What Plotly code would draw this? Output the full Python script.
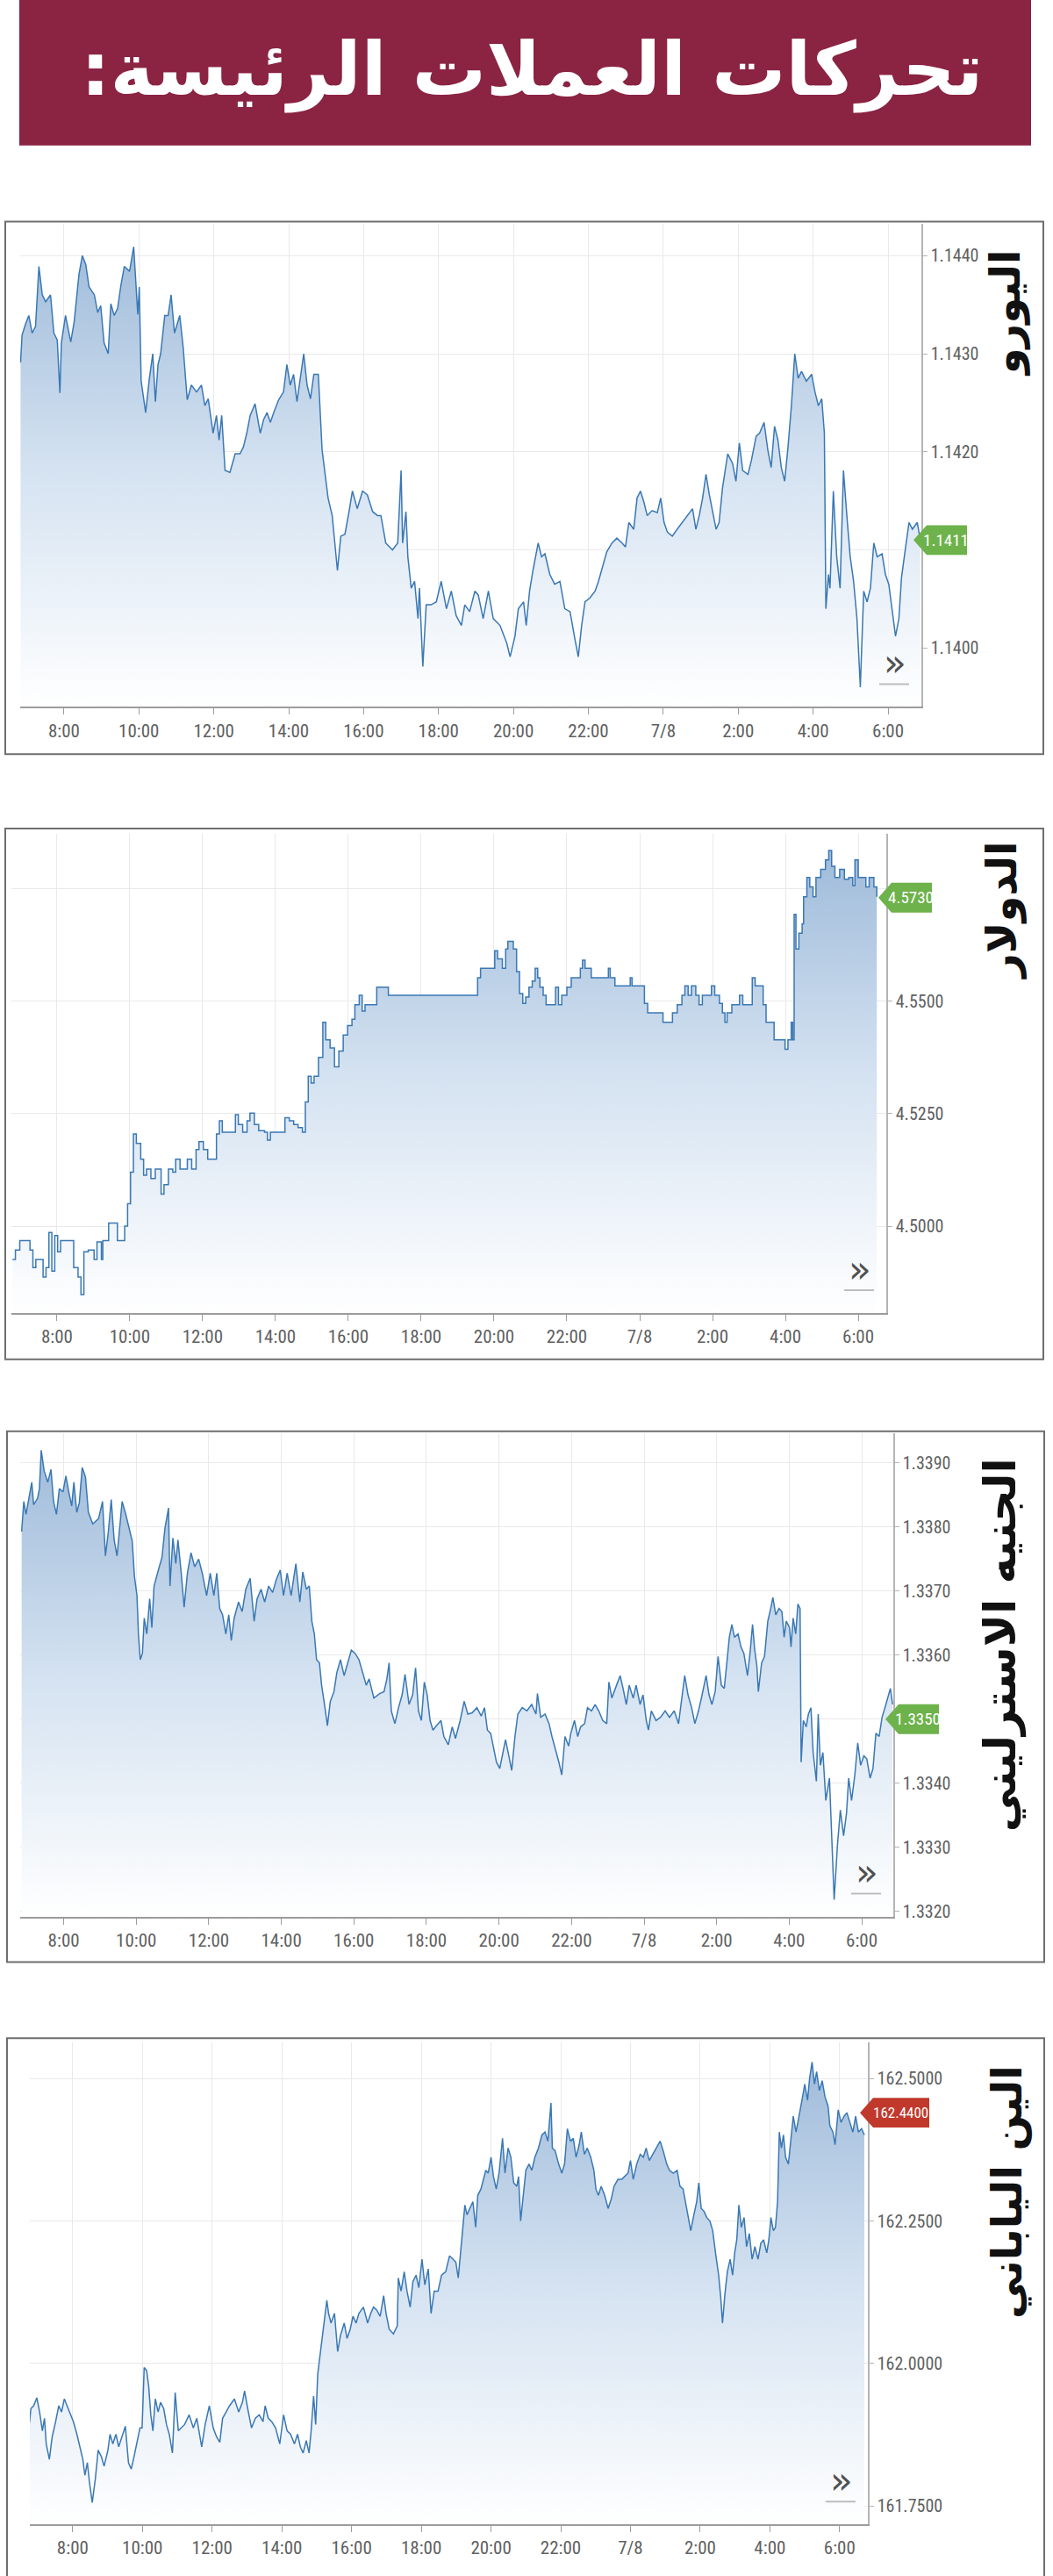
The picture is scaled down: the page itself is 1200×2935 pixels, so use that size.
import plotly.graph_objects as go

# ---------------- DATA ----------------
X_TICKS = [8, 10, 12, 14, 16, 18, 20, 22, 24, 26, 28, 30]
X_LABELS = ["8:00", "10:00", "12:00", "14:00", "16:00", "18:00", "20:00", "22:00", "7/8", "2:00", "4:00", "6:00"]

TITLE = "تحركات العملات الرئيسة:"
NAMES = ["اليورو", "الدولار", "الجنيه الاسترليني", "الين الياباني"]

EUR_T = [6.84, 6.88, 6.97, 7.06, 7.15, 7.24, 7.33, 7.42, 7.51, 7.64,
         7.73, 7.82, 7.89, 7.93, 8.04, 8.18, 8.27, 8.40, 8.49, 8.58,
         8.67, 8.81, 8.90, 8.98, 9.07, 9.18, 9.25, 9.34, 9.43, 9.52,
         9.61, 9.75, 9.86, 9.92, 9.97, 10.01, 10.06, 10.18, 10.28, 10.37,
         10.44, 10.51, 10.58, 10.69, 10.78, 10.86, 10.95, 11.09, 11.18, 11.29,
         11.40, 11.54, 11.67, 11.76, 11.85, 11.98, 12.07, 12.14, 12.21, 12.30,
         12.43, 12.57, 12.70, 12.79, 12.88, 12.97, 13.10, 13.24, 13.33, 13.42,
         13.51, 13.60, 13.73, 13.86, 13.95, 14.04, 14.13, 14.22, 14.31, 14.40,
         14.49, 14.58, 14.67, 14.79, 14.89, 14.98, 15.05, 15.16, 15.30, 15.39,
         15.50, 15.61, 15.70, 15.83, 15.97, 16.10, 16.24, 16.37, 16.46, 16.59,
         16.77, 16.91, 17.00, 17.04, 17.13, 17.18, 17.27, 17.36, 17.45, 17.49,
         17.58, 17.67, 17.80, 17.94, 18.07, 18.21, 18.34, 18.47, 18.61, 18.70,
         18.83, 18.97, 19.06, 19.19, 19.33, 19.46, 19.64, 19.82, 19.91, 20.04,
         20.13, 20.27, 20.34, 20.43, 20.52, 20.66, 20.75, 20.84, 20.97, 21.10,
         21.24, 21.37, 21.51, 21.64, 21.73, 21.82, 21.91, 22.04, 22.18, 22.27,
         22.40, 22.49, 22.63, 22.76, 22.90, 22.99, 23.08, 23.21, 23.30, 23.39,
         23.48, 23.57, 23.70, 23.84, 23.93, 24.02, 24.11, 24.24, 24.37, 24.51,
         24.64, 24.78, 24.87, 24.96, 25.05, 25.14, 25.23, 25.32, 25.41, 25.49,
         25.58, 25.72, 25.85, 25.94, 26.03, 26.12, 26.26, 26.35, 26.48, 26.57,
         26.69, 26.79, 26.88, 26.97, 27.06, 27.15, 27.24, 27.33, 27.42, 27.51,
         27.60, 27.69, 27.82, 27.96, 28.05, 28.14, 28.23, 28.30, 28.34, 28.41,
         28.45, 28.54, 28.63, 28.72, 28.81, 28.90, 28.99, 29.08, 29.17, 29.26,
         29.35, 29.44, 29.53, 29.62, 29.71, 29.84, 29.93, 30.02, 30.11, 30.20,
         30.29, 30.36, 30.47, 30.56, 30.65, 30.78, 30.86]
EUR_V = [1.14291, 1.14319, 1.14330, 1.14339, 1.14321, 1.14328, 1.14389, 1.14360, 1.14353, 1.14360,
         1.14321, 1.14314, 1.14260, 1.14311, 1.14339, 1.14312, 1.14332, 1.14381, 1.14400, 1.14391,
         1.14368, 1.14360, 1.14342, 1.14349, 1.14311, 1.14300, 1.14351, 1.14339, 1.14346, 1.14370,
         1.14389, 1.14384, 1.14409, 1.14370, 1.14340, 1.14368, 1.14272, 1.14240, 1.14275, 1.14300,
         1.14251, 1.14289, 1.14300, 1.14339, 1.14339, 1.14360, 1.14321, 1.14339, 1.14307, 1.14253,
         1.14268, 1.14261, 1.14268, 1.14247, 1.14254, 1.14219, 1.14237, 1.14212, 1.14237, 1.14181,
         1.14179, 1.14198, 1.14198, 1.14205, 1.14219, 1.14237, 1.14249, 1.14219, 1.14233, 1.14240,
         1.14230, 1.14240, 1.14253, 1.14261, 1.14289, 1.14268, 1.14279, 1.14251, 1.14275, 1.14300,
         1.14268, 1.14254, 1.14279, 1.14279, 1.14202, 1.14177, 1.14153, 1.14135, 1.14079, 1.14114,
         1.14116, 1.14139, 1.14160, 1.14142, 1.14160, 1.14156, 1.14139, 1.14135, 1.14135, 1.14107,
         1.14100, 1.14107, 1.14181, 1.14107, 1.14139, 1.14093, 1.14061, 1.14068, 1.14030, 1.14061,
         1.13981, 1.14044, 1.14044, 1.14047, 1.14068, 1.14040, 1.14058, 1.14033, 1.14023, 1.14044,
         1.14037, 1.14058, 1.14054, 1.14030, 1.14058, 1.14030, 1.14023, 1.14005, 1.13991, 1.14012,
         1.14040, 1.14047, 1.14023, 1.14058, 1.14079, 1.14107, 1.14093, 1.14096, 1.14075, 1.14065,
         1.14068, 1.14040, 1.14037, 1.14009, 1.13991, 1.14023, 1.14047, 1.14051, 1.14058, 1.14068,
         1.14086, 1.14098, 1.14107, 1.14112, 1.14107, 1.14103, 1.14128, 1.14121, 1.14153, 1.14160,
         1.14149, 1.14135, 1.14140, 1.14138, 1.14153, 1.14128, 1.14118, 1.14114, 1.14121, 1.14128,
         1.14135, 1.14142, 1.14121, 1.14135, 1.14153, 1.14177, 1.14156, 1.14139, 1.14121, 1.14128,
         1.14163, 1.14198, 1.14188, 1.14170, 1.14209, 1.14181, 1.14177, 1.14191, 1.14216, 1.14219,
         1.14230, 1.14202, 1.14184, 1.14226, 1.14212, 1.14184, 1.14170, 1.14205, 1.14247, 1.14300,
         1.14275, 1.14282, 1.14272, 1.14279, 1.14261, 1.14247, 1.14254, 1.14219, 1.14040, 1.14075,
         1.14061, 1.14160, 1.14093, 1.14061, 1.14181, 1.14135, 1.14093, 1.14068, 1.14030, 1.13960,
         1.14058, 1.14047, 1.14061, 1.14107, 1.14093, 1.14096, 1.14075, 1.14065, 1.14040, 1.14012,
         1.14030, 1.14072, 1.14103, 1.14128, 1.14121, 1.14128, 1.14110]

USD_T = [6.78, 6.86, 6.98, 7.18, 7.26, 7.34, 7.42, 7.54, 7.62, 7.70,
         7.78, 7.86, 7.94, 8.02, 8.10, 8.38, 8.46, 8.58, 8.66, 8.74,
         8.86, 9.02, 9.10, 9.22, 9.26, 9.42, 9.58, 9.66, 9.78, 9.86,
         9.94, 10.02, 10.10, 10.18, 10.30, 10.38, 10.46, 10.58, 10.70, 10.86,
         10.94, 11.06, 11.18, 11.26, 11.38, 11.50, 11.58, 11.70, 11.82, 11.90,
         12.02, 12.14, 12.26, 12.38, 12.46, 12.54, 12.78, 12.90, 12.98, 13.10,
         13.22, 13.30, 13.42, 13.54, 13.70, 13.78, 13.86, 14.14, 14.26, 14.38,
         14.50, 14.62, 14.74, 14.82, 14.90, 14.98, 15.06, 15.18, 15.30, 15.38,
         15.50, 15.62, 15.74, 15.86, 15.98, 16.10, 16.18, 16.30, 16.38, 16.46,
         16.70, 16.78, 17.02, 17.10, 19.50, 19.55, 19.63, 19.97, 20.02, 20.10,
         20.23, 20.32, 20.38, 20.53, 20.62, 20.70, 20.79, 20.87, 20.96, 21.05,
         21.13, 21.20, 21.26, 21.35, 21.43, 21.56, 21.69, 21.77, 21.86, 22.00,
         22.12, 22.25, 22.37, 22.43, 22.50, 22.67, 23.10, 23.14, 23.19, 23.32,
         23.70, 23.74, 23.79, 24.04, 24.13, 24.22, 24.47, 24.64, 24.82, 24.90,
         25.03, 25.16, 25.24, 25.33, 25.42, 25.54, 25.63, 25.72, 25.84, 25.97,
         26.06, 26.19, 26.27, 26.34, 26.40, 26.53, 26.66, 26.74, 26.83, 27.04,
         27.09, 27.17, 27.30, 27.39, 27.47, 27.60, 27.69, 27.90, 27.99, 28.07,
         28.16, 28.20, 28.24, 28.29, 28.37, 28.46, 28.50, 28.59, 28.67, 28.76,
         28.84, 28.97, 29.10, 29.19, 29.27, 29.36, 29.49, 29.62, 29.74, 29.85,
         29.91, 30.00, 30.13, 30.21, 30.30, 30.43, 30.51]
USD_V = [4.4926, 4.4947, 4.4968, 4.4968, 4.4947, 4.4908, 4.4926, 4.4926, 4.4887, 4.4908,
         4.4986, 4.4900, 4.4979, 4.4943, 4.4968, 4.4968, 4.4908, 4.4887, 4.4848, 4.4943,
         4.4947, 4.4926, 4.4965, 4.4926, 4.4968, 4.5007, 4.5007, 4.4968, 4.4968, 4.5000,
         4.5050, 4.5120, 4.5205, 4.5184, 4.5149, 4.5113, 4.5127, 4.5106, 4.5127, 4.5071,
         4.5092, 4.5127, 4.5120, 4.5149, 4.5127, 4.5127, 4.5149, 4.5127, 4.5170, 4.5188,
         4.5170, 4.5149, 4.5149, 4.5205, 4.5234, 4.5209, 4.5209, 4.5248, 4.5226, 4.5209,
         4.5234, 4.5251, 4.5226, 4.5212, 4.5209, 4.5191, 4.5209, 4.5209, 4.5241, 4.5234,
         4.5226, 4.5219, 4.5209, 4.5276, 4.5333, 4.5318, 4.5333, 4.5375, 4.5453, 4.5414,
         4.5396, 4.5354, 4.5389, 4.5425, 4.5446, 4.5460, 4.5492, 4.5513, 4.5478, 4.5492,
         4.5492, 4.5531, 4.5531, 4.5513, 4.5513, 4.5552, 4.5573, 4.5573, 4.5612, 4.5594,
         4.5573, 4.5616, 4.5633, 4.5616, 4.5566, 4.5517, 4.5495, 4.5509, 4.5531, 4.5545,
         4.5573, 4.5552, 4.5531, 4.5513, 4.5492, 4.5492, 4.5531, 4.5492, 4.5513, 4.5531,
         4.5552, 4.5552, 4.5573, 4.5591, 4.5573, 4.5552, 4.5552, 4.5573, 4.5552, 4.5534,
         4.5534, 4.5552, 4.5534, 4.5534, 4.5495, 4.5474, 4.5474, 4.5453, 4.5453, 4.5474,
         4.5492, 4.5513, 4.5534, 4.5513, 4.5534, 4.5513, 4.5492, 4.5513, 4.5513, 4.5534,
         4.5513, 4.5495, 4.5474, 4.5453, 4.5474, 4.5492, 4.5492, 4.5513, 4.5492, 4.5492,
         4.5552, 4.5534, 4.5534, 4.5492, 4.5453, 4.5453, 4.5414, 4.5414, 4.5393, 4.5414,
         4.5453, 4.5414, 4.5693, 4.5616, 4.5651, 4.5672, 4.5732, 4.5775, 4.5754, 4.5732,
         4.5775, 4.5793, 4.5814, 4.5835, 4.5800, 4.5775, 4.5793, 4.5771, 4.5775, 4.5757,
         4.5814, 4.5775, 4.5775, 4.5754, 4.5775, 4.5754, 4.5732]

GBP_T = [6.84, 6.90, 6.96, 7.04, 7.12, 7.17, 7.28, 7.33, 7.38, 7.46,
         7.56, 7.65, 7.72, 7.80, 7.88, 7.98, 8.06, 8.14, 8.22, 8.28,
         8.36, 8.43, 8.51, 8.60, 8.68, 8.80, 8.96, 9.07, 9.15, 9.23,
         9.31, 9.39, 9.47, 9.55, 9.61, 9.71, 9.81, 9.89, 9.95, 10.02,
         10.06, 10.11, 10.17, 10.22, 10.29, 10.37, 10.43, 10.49, 10.61, 10.71,
         10.79, 10.89, 10.93, 11.01, 11.09, 11.15, 11.24, 11.32, 11.41, 11.51,
         11.61, 11.72, 11.82, 11.94, 12.04, 12.14, 12.22, 12.30, 12.38, 12.47,
         12.55, 12.62, 12.70, 12.82, 12.92, 13.02, 13.14, 13.25, 13.33, 13.44,
         13.54, 13.65, 13.76, 13.86, 13.97, 14.06, 14.16, 14.27, 14.40, 14.51,
         14.59, 14.69, 14.77, 14.84, 14.91, 14.97, 15.05, 15.11, 15.19, 15.27,
         15.35, 15.45, 15.53, 15.63, 15.73, 15.83, 15.93, 16.03, 16.14, 16.24,
         16.34, 16.42, 16.55, 16.71, 16.83, 16.91, 16.97, 17.03, 17.13, 17.23,
         17.33, 17.41, 17.52, 17.62, 17.70, 17.78, 17.86, 17.94, 18.02, 18.10,
         18.18, 18.28, 18.40, 18.48, 18.60, 18.71, 18.80, 18.93, 19.04, 19.14,
         19.26, 19.39, 19.51, 19.60, 19.68, 19.77, 19.85, 19.93, 20.02, 20.10,
         20.18, 20.27, 20.35, 20.44, 20.52, 20.64, 20.77, 20.90, 21.02, 21.06,
         21.15, 21.27, 21.38, 21.46, 21.56, 21.65, 21.73, 21.82, 21.92, 21.98,
         22.08, 22.17, 22.25, 22.36, 22.44, 22.55, 22.65, 22.75, 22.86, 22.97,
         23.03, 23.11, 23.24, 23.34, 23.42, 23.51, 23.59, 23.70, 23.78, 23.89,
         23.97, 24.06, 24.12, 24.20, 24.33, 24.45, 24.58, 24.70, 24.83, 24.95,
         25.04, 25.12, 25.21, 25.31, 25.40, 25.50, 25.58, 25.71, 25.79, 25.87,
         25.96, 26.04, 26.13, 26.21, 26.29, 26.35, 26.42, 26.49, 26.59, 26.67,
         26.75, 26.85, 26.92, 26.99, 27.05, 27.11, 27.15, 27.24, 27.32, 27.41,
         27.49, 27.55, 27.63, 27.72, 27.80, 27.86, 27.92, 28.01, 28.05, 28.11,
         28.18, 28.24, 28.30, 28.33, 28.39, 28.47, 28.53, 28.60, 28.66, 28.75,
         28.80, 28.86, 28.93, 29.01, 29.11, 29.18, 29.24, 29.33, 29.41, 29.50,
         29.58, 29.64, 29.72, 29.81, 29.89, 29.97, 30.06, 30.14, 30.23, 30.31,
         30.39, 30.48, 30.56, 30.64, 30.74, 30.79, 30.85]
GBP_V = [1.33793, 1.33840, 1.33820, 1.33843, 1.33870, 1.33835, 1.33845, 1.33860, 1.33920, 1.33888,
         1.33870, 1.33890, 1.33840, 1.33820, 1.33860, 1.33855, 1.33880, 1.33855, 1.33833, 1.33870,
         1.33823, 1.33838, 1.33893, 1.33878, 1.33823, 1.33805, 1.33813, 1.33840, 1.33755, 1.33793,
         1.33843, 1.33780, 1.33755, 1.33803, 1.33840, 1.33820, 1.33798, 1.33778, 1.33723, 1.33693,
         1.33633, 1.33593, 1.33603, 1.33658, 1.33633, 1.33688, 1.33643, 1.33708, 1.33733, 1.33753,
         1.33798, 1.33830, 1.33708, 1.33783, 1.33743, 1.33780, 1.33728, 1.33675, 1.33728, 1.33760,
         1.33738, 1.33750, 1.33728, 1.33693, 1.33728, 1.33693, 1.33728, 1.33673, 1.33663, 1.33633,
         1.33663, 1.33623, 1.33658, 1.33683, 1.33668, 1.33703, 1.33720, 1.33653, 1.33688, 1.33703,
         1.33683, 1.33708, 1.33698, 1.33718, 1.33733, 1.33693, 1.33728, 1.33693, 1.33743, 1.33683,
         1.33730, 1.33703, 1.33708, 1.33653, 1.33633, 1.33593, 1.33588, 1.33553, 1.33523, 1.33490,
         1.33528, 1.33543, 1.33573, 1.33593, 1.33568, 1.33588, 1.33608, 1.33603, 1.33593, 1.33573,
         1.33553, 1.33563, 1.33533, 1.33540, 1.33543, 1.33563, 1.33588, 1.33513, 1.33493, 1.33518,
         1.33538, 1.33570, 1.33523, 1.33538, 1.33580, 1.33513, 1.33498, 1.33558, 1.33538, 1.33498,
         1.33483, 1.33490, 1.33498, 1.33473, 1.33460, 1.33488, 1.33470, 1.33498, 1.33528, 1.33508,
         1.33510, 1.33518, 1.33505, 1.33518, 1.33483, 1.33478, 1.33453, 1.33433, 1.33423, 1.33448,
         1.33468, 1.33443, 1.33420, 1.33473, 1.33508, 1.33518, 1.33513, 1.33523, 1.33508, 1.33540,
         1.33503, 1.33508, 1.33493, 1.33473, 1.33453, 1.33433, 1.33413, 1.33473, 1.33458, 1.33478,
         1.33498, 1.33473, 1.33488, 1.33493, 1.33518, 1.33513, 1.33523, 1.33513, 1.33498, 1.33493,
         1.33558, 1.33533, 1.33553, 1.33568, 1.33548, 1.33523, 1.33553, 1.33533, 1.33553, 1.33523,
         1.33538, 1.33498, 1.33483, 1.33513, 1.33498, 1.33503, 1.33513, 1.33503, 1.33513, 1.33493,
         1.33533, 1.33568, 1.33538, 1.33518, 1.33493, 1.33513, 1.33533, 1.33568, 1.33538, 1.33523,
         1.33543, 1.33598, 1.33553, 1.33548, 1.33593, 1.33628, 1.33648, 1.33628, 1.33633, 1.33613,
         1.33603, 1.33568, 1.33603, 1.33648, 1.33608, 1.33583, 1.33543, 1.33588, 1.33598, 1.33653,
         1.33673, 1.33690, 1.33663, 1.33673, 1.33668, 1.33628, 1.33653, 1.33643, 1.33613, 1.33658,
         1.33633, 1.33680, 1.33673, 1.33433, 1.33498, 1.33488, 1.33508, 1.33518, 1.33448, 1.33403,
         1.33508, 1.33428, 1.33448, 1.33373, 1.33408, 1.33313, 1.33218, 1.33303, 1.33358, 1.33318,
         1.33353, 1.33408, 1.33373, 1.33413, 1.33463, 1.33428, 1.33443, 1.33438, 1.33408, 1.33423,
         1.33478, 1.33473, 1.33503, 1.33518, 1.33538, 1.33548, 1.33523]

JPY_T = [6.76, 6.80, 6.88, 6.97, 7.05, 7.13, 7.19, 7.24, 7.33, 7.41,
         7.51, 7.60, 7.68, 7.76, 7.85, 7.93, 8.02, 8.12, 8.20, 8.29,
         8.35, 8.42, 8.48, 8.56, 8.65, 8.73, 8.82, 8.90, 9.01, 9.07,
         9.15, 9.24, 9.32, 9.43, 9.51, 9.60, 9.68, 9.76, 9.85, 9.93,
         9.99, 10.05, 10.12, 10.18, 10.24, 10.30, 10.37, 10.45, 10.52, 10.61,
         10.69, 10.77, 10.86, 10.94, 11.03, 11.11, 11.21, 11.34, 11.46, 11.56,
         11.70, 11.80, 11.92, 12.03, 12.13, 12.22, 12.30, 12.40, 12.50, 12.64,
         12.76, 12.87, 12.93, 13.02, 13.13, 13.24, 13.35, 13.46, 13.52, 13.61,
         13.71, 13.82, 13.94, 14.05, 14.15, 14.25, 14.36, 14.45, 14.53, 14.61,
         14.70, 14.78, 14.84, 14.91, 14.97, 15.03, 15.12, 15.20, 15.29, 15.34,
         15.41, 15.51, 15.60, 15.68, 15.79, 15.87, 15.96, 16.04, 16.13, 16.21,
         16.34, 16.46, 16.55, 16.63, 16.72, 16.82, 16.92, 16.99, 17.08, 17.20,
         17.31, 17.34, 17.42, 17.51, 17.59, 17.68, 17.76, 17.85, 17.93, 18.02,
         18.10, 18.20, 18.28, 18.37, 18.48, 18.58, 18.70, 18.81, 18.91, 18.99,
         19.06, 19.12, 19.18, 19.25, 19.31, 19.40, 19.48, 19.56, 19.62, 19.71,
         19.79, 19.85, 19.92, 20.00, 20.07, 20.15, 20.23, 20.33, 20.40, 20.49,
         20.57, 20.65, 20.74, 20.79, 20.85, 20.92, 21.00, 21.09, 21.17, 21.26,
         21.36, 21.46, 21.55, 21.63, 21.72, 21.76, 21.84, 21.94, 22.03, 22.11,
         22.19, 22.28, 22.36, 22.44, 22.53, 22.59, 22.68, 22.76, 22.86, 22.95,
         23.01, 23.08, 23.16, 23.26, 23.36, 23.45, 23.53, 23.64, 23.75, 23.83,
         23.93, 24.00, 24.08, 24.18, 24.28, 24.37, 24.45, 24.54, 24.64, 24.75,
         24.85, 24.94, 25.04, 25.12, 25.23, 25.34, 25.42, 25.51, 25.59, 25.67,
         25.73, 25.82, 25.90, 25.96, 26.03, 26.11, 26.19, 26.28, 26.36, 26.44,
         26.53, 26.59, 26.64, 26.71, 26.78, 26.86, 26.93, 26.99, 27.05, 27.11,
         27.18, 27.26, 27.33, 27.41, 27.49, 27.57, 27.66, 27.74, 27.82, 27.91,
         27.97, 28.03, 28.10, 28.16, 28.22, 28.27, 28.33, 28.39, 28.45, 28.53,
         28.59, 28.67, 28.75, 28.84, 28.92, 29.00, 29.08, 29.14, 29.21, 29.28,
         29.34, 29.42, 29.50, 29.58, 29.67, 29.72, 29.81, 29.87, 29.96, 30.04,
         30.13, 30.21, 30.29, 30.38, 30.46, 30.54, 30.63, 30.71]
JPY_V = [161.896, 161.921, 161.926, 161.940, 161.915, 161.882, 161.904, 161.859, 161.832, 161.871,
         161.898, 161.926, 161.915, 161.938, 161.924, 161.912, 161.898, 161.876, 161.854, 161.832,
         161.804, 161.826, 161.792, 161.756, 161.798, 161.848, 161.837, 161.820, 161.848, 161.876,
         161.859, 161.876, 161.854, 161.873, 161.890, 161.826, 161.815, 161.837, 161.865, 161.887,
         161.887, 161.993, 161.988, 161.960, 161.910, 161.882, 161.938, 161.915, 161.932, 161.921,
         161.893, 161.876, 161.843, 161.949, 161.882, 161.887, 161.893, 161.910, 161.887, 161.904,
         161.854, 161.893, 161.926, 161.887, 161.871, 161.862, 161.904, 161.915, 161.926, 161.938,
         161.915, 161.932, 161.952, 161.921, 161.887, 161.904, 161.910, 161.898, 161.926, 161.904,
         161.898, 161.887, 161.859, 161.910, 161.882, 161.876, 161.859, 161.876, 161.854, 161.843,
         161.865, 161.843, 161.882, 161.943, 161.893, 161.982, 162.027, 162.071, 162.111, 162.088,
         162.071, 162.088, 162.021, 162.049, 162.071, 162.044, 162.060, 162.083, 162.071, 162.088,
         162.099, 162.071, 162.088, 162.099, 162.094, 162.083, 162.119, 162.088, 162.060, 162.052,
         162.066, 162.150, 162.127, 162.161, 162.127, 162.099, 162.144, 162.155, 162.133, 162.183,
         162.138, 162.166, 162.088, 162.127, 162.127, 162.155, 162.161, 162.189, 162.183, 162.178,
         162.150, 162.194, 162.239, 162.278, 162.261, 162.272, 162.284, 162.239, 162.295, 162.306,
         162.323, 162.339, 162.334, 162.362, 162.328, 162.306, 162.334, 162.395, 162.334, 162.378,
         162.362, 162.317, 162.311, 162.328, 162.250, 162.295, 162.339, 162.350, 162.339, 162.362,
         162.378, 162.401, 162.406, 162.390, 162.457, 162.378, 162.373, 162.350, 162.334, 162.350,
         162.412, 162.390, 162.395, 162.362, 162.384, 162.406, 162.367, 162.378, 162.362, 162.339,
         162.306, 162.295, 162.311, 162.295, 162.272, 162.289, 162.311, 162.323, 162.323, 162.328,
         162.334, 162.356, 162.323, 162.350, 162.367, 162.362, 162.378, 162.356, 162.367, 162.378,
         162.390, 162.373, 162.350, 162.339, 162.334, 162.339, 162.311, 162.306, 162.278, 162.256,
         162.233, 162.261, 162.284, 162.317, 162.272, 162.267, 162.256, 162.250, 162.233, 162.194,
         162.155, 162.116, 162.071, 162.122, 162.161, 162.183, 162.155, 162.194, 162.217, 162.278,
         162.239, 162.256, 162.205, 162.228, 162.183, 162.205, 162.183, 162.211, 162.217, 162.194,
         162.217, 162.256, 162.233, 162.239, 162.284, 162.406, 162.378, 162.401, 162.362, 162.350,
         162.384, 162.434, 162.406, 162.434, 162.462, 162.490, 162.462, 162.501, 162.529, 162.490,
         162.512, 162.479, 162.496, 162.468, 162.451, 162.417, 162.406, 162.384, 162.445, 162.423,
         162.434, 162.440, 162.423, 162.406, 162.434, 162.406, 162.412, 162.401]

EUR_Y_TICKS = [1.1400, 1.1410, 1.1420, 1.1430, 1.1440]
EUR_Y_LABELS = ["1.1400", "", "1.1420", "1.1430", "1.1440"]
USD_Y_TICKS = [4.5000, 4.5250, 4.5500, 4.5750]
USD_Y_LABELS = ["4.5000", "4.5250", "4.5500", ""]
GBP_Y_TICKS = [1.3320, 1.3330, 1.3340, 1.3350, 1.3360, 1.3370, 1.3380, 1.3390]
GBP_Y_LABELS = ["1.3320", "1.3330", "1.3340", "", "1.3360", "1.3370", "1.3380", "1.3390"]
JPY_Y_TICKS = [161.75, 162.00, 162.25, 162.50]
JPY_Y_LABELS = ["161.7500", "162.0000", "162.2500", "162.5000"]

LAST_VALUES = [1.1411, 4.5730, 1.3350, 162.4400]
LAST_LABELS = ["1.1411", "4.5730", "1.3350", "162.4400"]

# ---------------- LAYOUT (pixels) ----------------
W, H = 1200, 2935
FONT_TICK = "Liberation Sans Narrow, Arial Narrow, Roboto Condensed, Liberation Sans, sans-serif"
AR_FONT = "DejaVu Sans, Noto Sans, sans-serif"
RLM = "\u200f"
LINE_COLOR = "#3a78b4"
GRID = "#e9e9e9"
AXIS = "#9c9c9c"
TICK_COLOR = "#606060"


def fx(x):
    return x / W


def fy(y):
    return 1 - y / H


panels = [
    dict(t=EUR_T, v=EUR_V, plot=(23, 256, 1050, 807), xr=(6.83, 30.89), yr=(1.13940, 1.14432),
         box=(6, 253, 1189, 861), yt=EUR_Y_TICKS, yl=EUR_Y_LABELS, label_c=(1145, 357),
         badge="#6db24a", badge_w=52, badge_font=19, shape="linear"),
    dict(t=USD_T, v=USD_V, plot=(13, 952, 1010, 1499), xr=(6.75, 30.77), yr=(4.4807, 4.5872),
         box=(6, 946, 1189, 1552), yt=USD_Y_TICKS, yl=USD_Y_LABELS, label_c=(1142, 1040),
         badge="#6db24a", badge_w=52, badge_font=19, shape="hv"),
    dict(t=GBP_T, v=GBP_V, plot=(23, 1636, 1018, 2188), xr=(6.80, 30.87), yr=(1.33192, 1.33947),
         box=(8, 1634, 1190, 2240), yt=GBP_Y_TICKS, yl=GBP_Y_LABELS, label_c=(1140, 1878),
         badge="#6db24a", badge_w=52, badge_font=19, shape="linear"),
    dict(t=JPY_T, v=JPY_V, plot=(34, 2332, 989, 2882), xr=(6.77, 30.81), yr=(161.718, 162.563),
         box=(8, 2327, 1190, 2945), yt=JPY_Y_TICKS, yl=JPY_Y_LABELS, label_c=(1148, 2503),
         badge="#c0392b", badge_w=70, badge_font=17, shape="linear"),
]
NAME_SIZES = [48, 48, 50, 48]

fig = go.Figure()
shapes = []
annotations = []

# title banner
shapes.append(dict(type="rect", xref="paper", yref="paper", x0=fx(22), x1=fx(1175), y0=fy(166), y1=fy(0),
                   fillcolor="#8b2342", line=dict(width=0), layer="below"))
annotations.append(dict(text=TITLE + RLM, xref="paper", yref="paper", x=fx(606), y=fy(80), showarrow=False,
                        font=dict(family=AR_FONT, size=84, color="white", weight="bold"),
                        xanchor="center", yanchor="middle"))

for i, p in enumerate(panels):
    n = "" if i == 0 else str(i + 1)
    xa, ya = "x" + n, "y" + n
    x0, y0, x1, y1 = p["plot"]
    fig.add_trace(go.Scatter(
        x=p["t"], y=p["v"], mode="lines", xaxis=xa, yaxis=ya,
        line=dict(color=LINE_COLOR, width=1.5, shape=p["shape"]),
        fill="tozeroy",
        fillgradient=dict(type="vertical", start=p["yr"][0], stop=p["yr"][1],
                          colorscale=[[0, "rgba(255,255,255,1)"], [0.5, "#d4e2f1"], [1, "#9bb8d8"]]),
        hoverinfo="skip", showlegend=False))

    fig.update_layout(**{
        "xaxis" + n: dict(domain=[fx(x0), fx(x1)], anchor=ya, range=list(p["xr"]),
                          tickvals=X_TICKS, ticktext=X_LABELS, showgrid=True, gridcolor=GRID, gridwidth=1,
                          showline=True, linecolor=AXIS, linewidth=2, ticks="outside", ticklen=7,
                          tickcolor=AXIS, tickfont=dict(family=FONT_TICK, size=21, color=TICK_COLOR),
                          zeroline=False, fixedrange=True),
        "yaxis" + n: dict(domain=[fy(y1), fy(y0)], anchor=xa, side="right", range=list(p["yr"]),
                          tickvals=p["yt"], ticktext=p["yl"], showgrid=True, gridcolor=GRID, gridwidth=1,
                          showline=True, linecolor="#b4b4b4", linewidth=1.5, ticks="outside", ticklen=5,
                          tickcolor="#b4b4b4", tickfont=dict(family=FONT_TICK, size=20, color=TICK_COLOR),
                          zeroline=False, fixedrange=True),
    })

    # outer box
    bx0, by0, bx1, by1 = p["box"]
    shapes.append(dict(type="rect", xref="paper", yref="paper", x0=fx(bx0), x1=fx(bx1), y0=fy(by1), y1=fy(by0),
                       line=dict(color="#6e6e6e", width=2), fillcolor="rgba(0,0,0,0)", layer="above"))

    # last-price badge (pentagon pointing left)
    span = (p["yr"][1] - p["yr"][0]) / (y1 - y0)
    hv = 17 * span
    val = LAST_VALUES[i]
    tip = x1 - 9
    bl = x1 - 1
    br = x1 + p["badge_w"]
    path = (f"M {fx(tip)},{val} L {fx(bl + 7)},{val + hv} L {fx(br)},{val + hv} "
            f"L {fx(br)},{val - hv} L {fx(bl + 7)},{val - hv} Z")
    shapes.append(dict(type="path", xref="paper", yref=ya, path=path, fillcolor=p["badge"],
                       line=dict(width=0), layer="above"))
    annotations.append(dict(text=LAST_LABELS[i], xref="paper", yref=ya, x=fx((bl + 5 + br) / 2), y=val,
                            showarrow=False, xanchor="center", yanchor="middle",
                            font=dict(family=FONT_TICK, size=p["badge_font"], color="white")))

    # navigator "»" button
    annotations.append(dict(text="»", xref="paper", yref="paper", x=fx(x1 - 30), y=fy(y1 - 50),
                            showarrow=False, xanchor="center", yanchor="middle",
                            font=dict(family="DejaVu Sans", size=42, color="#505050")))
    shapes.append(dict(type="line", xref="paper", yref="paper", x0=fx(x1 - 48), x1=fx(x1 - 14),
                       y0=fy(y1 - 26), y1=fy(y1 - 26), line=dict(color="#bdbdbd", width=2)))

    # currency name, vertical
    cx, cy = p["label_c"]
    annotations.append(dict(text=NAMES[i], xref="paper", yref="paper", x=fx(cx), y=fy(cy), textangle=-90,
                            showarrow=False, xanchor="center", yanchor="middle",
                            font=dict(family=AR_FONT, size=NAME_SIZES[i], color="#111111", weight="bold")))

fig.update_layout(width=W, height=H, margin=dict(l=0, r=0, t=0, b=0),
                  paper_bgcolor="white", plot_bgcolor="white",
                  shapes=shapes, annotations=annotations, showlegend=False)

fig.write_html("out.html", config={"displayModeBar": False})
